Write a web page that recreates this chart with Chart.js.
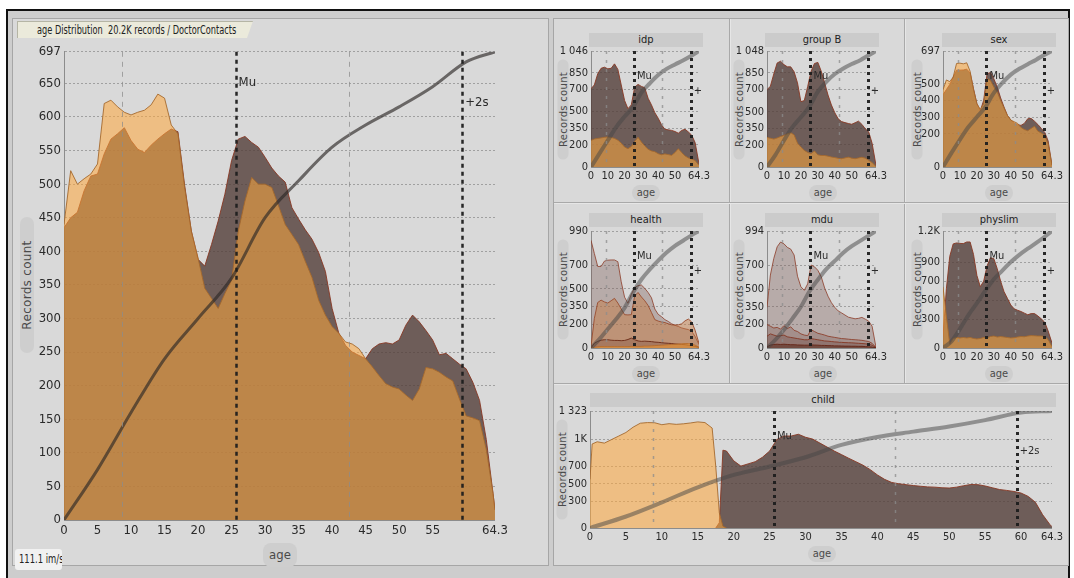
<!DOCTYPE html>
<html>
<head>
<meta charset="utf-8">
<script src="https://cdn.jsdelivr.net/npm/chart.js@4.4.1/dist/chart.umd.min.js"></script>
<style>
  body { margin: 0; width: 1074px; height: 578px; background: #fff; position: relative; overflow: hidden;
         font-family: 'Liberation Sans Narrow', 'DejaVu Sans Condensed', 'Liberation Sans', sans-serif; color: #222; }
  div { position: absolute; box-sizing: border-box; }
  canvas { position: absolute; }
  #frame { left: 6px; top: 9px; width: 1064px; height: 580px; border: 2px solid #111; border-bottom: none; background: #cdcdcd; }
  .panel { background: #d9d9d9; border: 1px solid #a6a6a6; }
  .vsep { width: 2px; border-left: 1px solid #a9a9a9; border-right: 1px solid #e6e6e6; }
  .hsep { height: 2px; border-top: 1px solid #a9a9a9; border-bottom: 1px solid #e6e6e6; }
  .tbar { background: #cbcbcb; font-size: 11px; text-align: center; line-height: 14px; }
  .pill { background: #cecece; border-radius: 8px; text-align: center; color: #4a4a4a; white-space: nowrap; }
  .vpill { transform: rotate(-90deg); font-family: 'DejaVu Sans', sans-serif; letter-spacing: 0.3px; }
  .narrow { display: inline-block; transform-origin: left center; white-space: pre; }
</style>
</head>
<body>
<div id="frame"></div>
<div class="panel" style="left:12px;top:18px;width:537px;height:548px;"></div>
<div class="panel" style="left:553px;top:18px;width:516px;height:548px;"></div>
<div class="vsep" style="left:729px;top:19px;height:365px;"></div>
<div class="vsep" style="left:904px;top:19px;height:365px;"></div>
<div class="hsep" style="left:554px;top:202px;width:514px;"></div>
<div class="hsep" style="left:554px;top:383px;width:514px;"></div>

<div style="left:17px;top:21px;width:236px;height:17px;background:#ebeadb;border-top:1px solid #b5b5a5;border-left:1px solid #b5b5a5;
            clip-path:polygon(0 0,100% 0,calc(100% - 6px) 100%,0 100%);font-size:12px;line-height:16px;padding-left:19px;overflow:hidden;">
  <span class="narrow" style="transform:scaleX(0.76);">age Distribution  20.2K records / DoctorContacts</span></div>

<div class="pill vpill" style="left:-41px;top:278px;width:136px;height:14px;font-size:12px;line-height:14px;">Records count</div>
<div class="pill" style="left:263px;top:543px;width:34px;height:24px;font-size:13px;line-height:24px;">age</div>
<div style="left:15px;top:549px;width:47px;height:21px;background:#f1f1f1;border-radius:3px;font-size:12px;line-height:21px;padding-left:4px;overflow:hidden;">
  <span class="narrow" style="transform:scaleX(0.78);">111.1 im/s</span></div>

<div class="tbar" style="left:589px;top:33px;width:114px;height:14px;">idp</div>
<div class="tbar" style="left:765px;top:33px;width:114px;height:14px;">group B</div>
<div class="tbar" style="left:942px;top:33px;width:114px;height:14px;">sex</div>
<div class="tbar" style="left:589px;top:213px;width:114px;height:14px;">health</div>
<div class="tbar" style="left:765px;top:213px;width:114px;height:14px;">mdu</div>
<div class="tbar" style="left:942px;top:213px;width:114px;height:14px;">physlim</div>
<div class="tbar" style="left:590px;top:393px;width:466px;height:14px;">child</div>

<div class="pill vpill" style="left:513px;top:104px;width:100px;height:11px;font-size:10px;line-height:11px;">Records count</div>
<div class="pill vpill" style="left:689px;top:104px;width:100px;height:11px;font-size:10px;line-height:11px;">Records count</div>
<div class="pill vpill" style="left:867px;top:104px;width:100px;height:11px;font-size:10px;line-height:11px;">Records count</div>
<div class="pill vpill" style="left:513px;top:284px;width:100px;height:11px;font-size:10px;line-height:11px;">Records count</div>
<div class="pill vpill" style="left:689px;top:284px;width:100px;height:11px;font-size:10px;line-height:11px;">Records count</div>
<div class="pill vpill" style="left:867px;top:284px;width:100px;height:11px;font-size:10px;line-height:11px;">Records count</div>
<div class="pill vpill" style="left:512px;top:464px;width:100px;height:11px;font-size:10px;line-height:11px;">Records count</div>

<div class="pill" style="left:632px;top:185px;width:28px;height:16px;font-size:11px;line-height:16px;">age</div>
<div class="pill" style="left:809px;top:185px;width:28px;height:16px;font-size:11px;line-height:16px;">age</div>
<div class="pill" style="left:985px;top:185px;width:28px;height:16px;font-size:11px;line-height:16px;">age</div>
<div class="pill" style="left:632px;top:366px;width:28px;height:16px;font-size:11px;line-height:16px;">age</div>
<div class="pill" style="left:809px;top:366px;width:28px;height:16px;font-size:11px;line-height:16px;">age</div>
<div class="pill" style="left:985px;top:366px;width:28px;height:16px;font-size:11px;line-height:16px;">age</div>
<div class="pill" style="left:808px;top:546px;width:28px;height:16px;font-size:11px;line-height:16px;">age</div>

<script>
// ---------- data ----------
const AGES = [0,1,2,3,4,5,6,7,8,9,10,11,12,13,14,15,16,17,18,19,20,21,22,23,24,25,26,27,28,29,30,31,32,
              33,34,35,36,37,38,39,40,41,42,43,44,45,46,47,48,49,50,51,52,53,54,55,56,57,58,59,60,61,62,63,64,64.3];
const MAIN_ORANGE = [440,520,500,508,515,530,620,625,615,607,603,607,610,618,634,628,588,575,495,430,390,345,330,315,337,357,
                     430,475,510,500,500,495,468,440,425,410,385,361,327,305,288,278,265,262,255,240,228,215,203,198,195,186,
                     178,195,227,225,220,213,207,180,155,152,148,105,40,15];
const MAIN_BROWN = [435,450,458,490,512,515,545,567,575,584,565,552,547,558,567,575,582,578,498,430,388,378,410,445,485,535,
                    567,571,562,555,540,524,512,503,465,448,432,418,398,370,315,278,260,250,245,240,255,262,264,262,268,290,
                    305,295,282,268,246,248,240,232,225,205,178,120,40,15];

const CUM_AGES = [0,5,10,15,20,25,30,35,40,45,50,55,60,64.3];
const MAIN_CUM = [0,75,160,240,300,360,450,505,555,588,615,645,682,697];

const STAT_LINES = [8.7, 25.6, 42.5, 59.4];   // Mu-s, Mu, Mu+s, Mu+2s
const STAT_LABELS = ['Mu', '+2s'];

const MAIN_X_TICKS = [0,5,10,15,20,25,30,35,40,45,50,55,64.3];
const MAIN_Y_TICKS = [0,50,100,150,200,250,300,350,400,450,500,550,600,650,697];
const SMALL_X_TICKS = [0,10,20,30,40,50,64.3];
const CHILD_X_TICKS = [0,5,10,15,20,25,30,35,40,45,50,55,60,64.3];

const SMALL_AGES = [0,2,4,6,8,10,12,14,16,18,20,22,24,26,28,30,32,34,36,38,40,42,44,46,48,50,52,54,56,58,60,62,64.3];

const IDP_Y_TICKS = [0,200,350,500,700,850,1046];
const IDP_Y_LABELS = ['0','200','350','500','700','850','1 046'];
const IDP_BROWN = [706,740,840,890,900,885,890,930,880,740,600,526,560,720,745,727,715,620,560,490,440,380,340,335,330,320,305,330,340,316,286,220,30];
const IDP_ORANGE = [240,252,258,262,268,270,266,258,242,215,180,165,185,230,268,225,190,160,145,138,120,110,118,112,105,130,165,130,100,82,72,58,15];
const IDP_CUM = [0,120,240,360,455,540,670,755,830,885,925,962,1005,1046];

const GROUPB_Y_TICKS = [0,200,350,500,700,850,1048];
const GROUPB_Y_LABELS = ['0','200','350','500','700','850','1 048'];
const GROUPB_BROWN = [698,730,840,940,955,925,905,905,860,760,590,600,727,865,935,945,865,760,650,560,490,435,410,401,393,386,400,414,385,345,318,215,15];
const GROUPB_ORANGE = [267,260,252,262,275,285,300,310,290,215,180,150,132,120,145,110,104,104,98,90,85,78,75,82,89,80,75,82,88,80,60,40,5];
const GROUPB_CUM = [0,110,240,360,450,545,680,770,840,890,930,965,1010,1048];

const SEX_Y_TICKS = [0,200,300,400,500,697];
const SEX_Y_LABELS = ['0','200','300','400','500','697'];
const SEX_ORANGE = [464,523,513,540,622,624,620,626,575,465,380,346,380,530,520,480,450,400,355,310,282,272,262,238,225,218,232,245,215,205,190,140,10];
const SEX_BROWN = [434,465,496,540,582,582,583,588,565,470,380,338,400,560,568,530,480,415,360,310,282,265,255,250,262,290,292,275,255,232,208,158,10];
const SEX_CUM = [0,85,165,240,300,360,445,505,555,590,618,645,675,697];

const HEALTH_Y_TICKS = [0,200,350,500,700,990];
const HEALTH_Y_LABELS = ['0','200','350','500','700','990'];
const HEALTH_S1 = [911,800,690,690,735,743,745,745,730,560,430,379,455,510,528,533,505,470,425,330,285,265,240,225,205,192,182,170,162,156,140,98,28];
const HEALTH_S2 = [14,250,385,405,390,380,400,420,380,330,282,280,282,440,470,432,400,360,300,240,228,220,215,205,196,195,196,205,230,245,220,150,40];
const HEALTH_S3 = [0,40,56,66,70,70,66,64,64,62,64,72,84,70,60,56,58,56,54,50,48,45,42,40,38,34,32,30,28,24,20,14,4];
const HEALTH_S4 = [0,6,10,12,12,12,12,12,12,12,12,12,14,14,14,14,16,16,18,20,22,24,26,28,30,32,34,36,38,38,34,24,6];
const HEALTH_CUM = [0,75,160,245,340,470,580,665,740,808,865,910,955,990];

const MDU_Y_TICKS = [0,200,350,500,700,994];
const MDU_Y_LABELS = ['0','200','350','500','700','994'];
const MDU_S1 = [346,620,760,860,900,885,855,840,790,610,520,490,545,705,690,660,605,510,440,385,345,315,298,280,262,255,248,252,260,245,228,185,6];
const MDU_S2 = [200,185,170,175,160,190,165,180,150,140,120,110,105,155,140,125,118,110,100,95,90,85,80,78,75,72,70,68,65,60,55,40,5];
const MDU_S3 = [100,120,110,100,105,110,95,90,85,80,75,70,70,80,75,70,65,60,58,55,52,50,48,46,45,44,42,40,38,36,32,24,4];
const MDU_S4 = [10,25,30,32,30,32,30,28,28,26,25,24,24,26,25,24,22,22,20,20,18,18,17,16,16,15,15,14,14,12,10,8,2];
const MDU_CUM = [0,70,155,250,350,480,580,670,740,810,865,910,955,994];

const PHYSLIM_Y_TICKS = [0,300,500,700,900,1225];
const PHYSLIM_Y_LABELS = ['0','300','500','700','900','1.2K'];
const PHYSLIM_BROWN = [121,620,960,1090,1100,1095,1093,1110,1110,980,760,642,700,860,945,935,830,700,590,520,450,410,395,382,365,348,360,360,335,305,270,180,52];
const PHYSLIM_ORANGE = [640,330,40,100,110,105,110,105,110,100,95,100,110,105,120,125,115,120,115,110,105,108,115,120,118,125,130,128,125,125,120,90,15];
const PHYSLIM_CUM = [0,70,200,345,470,600,720,810,900,975,1040,1100,1165,1225];

const CHILD_Y_TICKS = [0,300,500,700,1000,1323];
const CHILD_Y_LABELS = ['0','300','500','700','1K','1 323'];
const CHILD_YES_AGES = [0,0.3,1,2,3,4,5,6,7,8,9,10,11,12,13,14,15,16,17,17.5,18,18.5,19];
const CHILD_YES = [550,950,975,960,1000,1040,1080,1140,1185,1192,1190,1168,1180,1172,1178,1188,1200,1192,1130,700,170,20,0];
const CHILD_NO_AGES = [17.5,18,18.5,19,20,21,22,23,24,25,26,27,28,29,30,31,32,33,34,35,36,37,38,39,40,41,42,43,44,
                       45,46,47,48,49,50,51,52,53,54,55,56,57,58,59,60,61,62,63,64,64.3];
const CHILD_NO = [0,60,880,870,760,700,725,750,800,870,1000,1040,1040,1060,1026,1005,960,915,870,830,789,750,710,660,600,
                  550,515,500,490,480,472,465,462,455,452,462,478,492,490,475,455,435,425,413,395,357,290,150,40,15];
const CHILD_CUM = [0,130,290,460,600,695,800,940,1030,1090,1148,1220,1305,1323];

// ---------- styles ----------
const FONT = "'Liberation Sans Narrow', 'DejaVu Sans Condensed', 'Liberation Sans', sans-serif";
const BROWN_FILL = 'rgba(83,61,56,0.8)';
const BROWN_LINE = 'rgba(135,55,35,0.9)';
const ORANGE_FILL = 'rgba(255,168,60,0.55)';
const ORANGE_LINE = 'rgba(165,105,45,0.9)';

function area(xs, ys, fill, line) {
    return {
        data: xs.map((x, i) => ({ x: x, y: ys[i] })),
        fill: 'origin', backgroundColor: fill, borderColor: line,
        borderWidth: 1, pointRadius: 0, tension: 0
    };
}

function cumLine(ys, width, color) {
    return {
        data: CUM_AGES.map((x, i) => ({ x: x, y: ys[i] })),
        fill: false, borderColor: color, borderWidth: width,
        pointRadius: 0, cubicInterpolationMode: 'monotone'
    };
}

// dashed Mu / +-s lines and their labels, placed through the x scale
const statLines = {
    id: 'statLines',
    afterDatasetsDraw(chart, args, o) {
        const { ctx, chartArea: a, scales: { x } } = chart;
        ctx.save();
        STAT_LINES.forEach((v, i) => {
            const px = Math.round(x.getPixelForValue(v)) + 0.5;
            const strong = i === 1 || i === 3;
            ctx.beginPath();
            ctx.setLineDash(strong ? o.strongDash : o.lightDash);
            ctx.lineWidth = strong ? o.strongW : o.lightW;
            ctx.strokeStyle = strong ? 'rgba(30,30,30,0.95)' : 'rgba(140,140,140,0.75)';
            ctx.moveTo(px, a.top);
            ctx.lineTo(px, a.bottom);
            ctx.stroke();
        });
        ctx.setLineDash([]);
        ctx.beginPath();
        ctx.rect(a.left, a.top - 4, a.width + 2, a.height + 4);
        ctx.clip();
        ctx.fillStyle = '#2a2a2a';
        ctx.font = o.fs + 'px ' + FONT;
        ctx.textBaseline = 'middle';
        ctx.fillText(STAT_LABELS[0], x.getPixelForValue(STAT_LINES[1]) + 3, a.top + o.muDy);
        ctx.fillText(STAT_LABELS[1], x.getPixelForValue(STAT_LINES[3]) + 3, a.top + o.sDy);
        ctx.restore();
    }
};

function makeChart(box, spec) {
    const padT = 10, padR = spec.padR;
    const cv = document.createElement('canvas');
    cv.width = spec.yW + box.w + padR;
    cv.height = padT + box.h + spec.xH;
    cv.style.left = (box.x - spec.yW) + 'px';
    cv.style.top = (box.y - padT) + 'px';
    document.body.appendChild(cv);
    const tickFont = { family: FONT, size: spec.fs };
    return new Chart(cv, {
        type: 'line',
        data: { datasets: spec.datasets },
        options: {
            responsive: false,
            animation: false,
            devicePixelRatio: 1,
            layout: { padding: { top: padT, right: padR, left: 0, bottom: 0 } },
            plugins: {
                legend: { display: false },
                tooltip: { enabled: false },
                statLines: spec.stat
            },
            scales: {
                x: {
                    type: 'linear', min: 0, max: 64.3,
                    afterBuildTicks: s => { s.ticks = spec.xTicks.map(v => ({ value: v })); },
                    afterFit: s => { s.height = spec.xH; },
                    ticks: { autoSkip: false, maxRotation: 0, padding: 3, color: '#2a2a2a', font: tickFont,
                             callback: v => String(v) },
                    grid: { display: false, drawTicks: false },
                    border: { display: true, color: '#8c8c8c', width: 1 }
                },
                y: {
                    min: 0, max: spec.yMax,
                    afterBuildTicks: s => { s.ticks = spec.yTicks.map(v => ({ value: v })); },
                    afterFit: s => { s.width = spec.yW; },
                    ticks: { padding: 3, color: '#2a2a2a', font: tickFont,
                             callback: (v, i) => spec.yLabels[i] },
                    grid: { color: 'rgba(135,135,135,0.7)', lineWidth: 1, drawTicks: false },
                    border: { display: true, color: '#8c8c8c', width: 1, dash: [2, 2] }
                }
            }
        },
        plugins: [statLines]
    });
}

const MAIN_STAT = { strongW: 2.5, strongDash: [4, 4], lightW: 1, lightDash: [5, 5], fs: 13, muDy: 31, sDy: 51 };
const SMALL_STAT = { strongW: 3, strongDash: [3, 4], lightW: 1.5, lightDash: [3, 6], fs: 11, muDy: 25, sDy: 40 };
const SMALL_CUM_COLOR = 'rgba(70,70,70,0.5)';

// main chart
makeChart({ x: 64, y: 51, w: 433, h: 469 }, {
    yW: 34, xH: 26, padR: 14, fs: 13,
    yMax: 697, yTicks: MAIN_Y_TICKS, yLabels: MAIN_Y_TICKS.map(String), xTicks: MAIN_X_TICKS,
    stat: MAIN_STAT,
    datasets: [
        cumLine(MAIN_CUM, 3, 'rgba(45,40,38,0.65)'),
        area(AGES, MAIN_ORANGE, ORANGE_FILL, ORANGE_LINE),
        area(AGES, MAIN_BROWN, BROWN_FILL, BROWN_LINE)
    ]
});

function smallSpec(yMax, yTicks, yLabels, cum, sets) {
    return {
        yW: 38, xH: 17, padR: 12, fs: 11,
        yMax: yMax, yTicks: yTicks, yLabels: yLabels, xTicks: SMALL_X_TICKS,
        stat: SMALL_STAT,
        datasets: [cumLine(cum, 4, SMALL_CUM_COLOR)].concat(sets)
    };
}

makeChart({ x: 591, y: 51, w: 110, h: 116 }, smallSpec(1046, IDP_Y_TICKS, IDP_Y_LABELS, IDP_CUM, [
    area(SMALL_AGES, IDP_ORANGE, ORANGE_FILL, ORANGE_LINE),
    area(SMALL_AGES, IDP_BROWN, BROWN_FILL, BROWN_LINE)
]));
makeChart({ x: 767, y: 51, w: 111, h: 116 }, smallSpec(1048, GROUPB_Y_TICKS, GROUPB_Y_LABELS, GROUPB_CUM, [
    area(SMALL_AGES, GROUPB_ORANGE, ORANGE_FILL, ORANGE_LINE),
    area(SMALL_AGES, GROUPB_BROWN, BROWN_FILL, BROWN_LINE)
]));
makeChart({ x: 943, y: 51, w: 111, h: 116 }, smallSpec(697, SEX_Y_TICKS, SEX_Y_LABELS, SEX_CUM, [
    area(SMALL_AGES, SEX_ORANGE, ORANGE_FILL, ORANGE_LINE),
    area(SMALL_AGES, SEX_BROWN, BROWN_FILL, BROWN_LINE)
]));
makeChart({ x: 591, y: 231, w: 110, h: 117 }, smallSpec(990, HEALTH_Y_TICKS, HEALTH_Y_LABELS, HEALTH_CUM, [
    area(SMALL_AGES, HEALTH_S4, 'rgba(235,150,50,0.6)', 'rgba(180,105,40,0.8)'),
    area(SMALL_AGES, HEALTH_S3, 'rgba(110,60,40,0.3)', 'rgba(105,40,20,0.9)'),
    area(SMALL_AGES, HEALTH_S2, 'rgba(200,120,60,0.45)', 'rgba(150,70,40,0.85)'),
    area(SMALL_AGES, HEALTH_S1, 'rgba(120,85,80,0.35)', 'rgba(140,60,40,0.8)')
]));
makeChart({ x: 767, y: 231, w: 111, h: 117 }, smallSpec(994, MDU_Y_TICKS, MDU_Y_LABELS, MDU_CUM, [
    area(SMALL_AGES, MDU_S4, 'rgba(90,40,25,0.55)', 'rgba(100,35,20,0.9)'),
    area(SMALL_AGES, MDU_S3, 'rgba(110,70,60,0.35)', 'rgba(130,50,30,0.85)'),
    area(SMALL_AGES, MDU_S2, 'rgba(120,80,70,0.3)', 'rgba(140,60,40,0.85)'),
    area(SMALL_AGES, MDU_S1, 'rgba(120,85,80,0.35)', 'rgba(140,60,40,0.8)')
]));
makeChart({ x: 943, y: 231, w: 111, h: 117 }, smallSpec(1225, PHYSLIM_Y_TICKS, PHYSLIM_Y_LABELS, PHYSLIM_CUM, [
    area(SMALL_AGES, PHYSLIM_ORANGE, ORANGE_FILL, ORANGE_LINE),
    area(SMALL_AGES, PHYSLIM_BROWN, BROWN_FILL, BROWN_LINE)
]));

// child (wide bottom panel)
makeChart({ x: 590, y: 411, w: 464, h: 117 }, {
    yW: 38, xH: 17, padR: 12, fs: 11,
    yMax: 1323, yTicks: CHILD_Y_TICKS, yLabels: CHILD_Y_LABELS, xTicks: CHILD_X_TICKS,
    stat: SMALL_STAT,
    datasets: [
        cumLine(CHILD_CUM, 4, SMALL_CUM_COLOR),
        area(CHILD_YES_AGES, CHILD_YES, ORANGE_FILL, ORANGE_LINE),
        area(CHILD_NO_AGES, CHILD_NO, BROWN_FILL, BROWN_LINE)
    ]
});
</script>
</body>
</html>
